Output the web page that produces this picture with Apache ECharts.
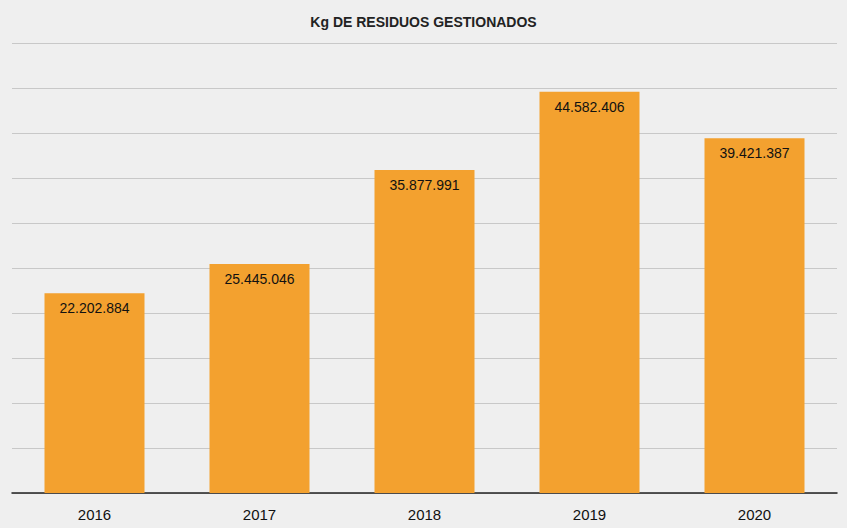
<!DOCTYPE html>
<html><head><meta charset="utf-8">
<script src="https://cdn.jsdelivr.net/npm/echarts@6/dist/echarts.min.js"></script>
<style>html,body{margin:0;padding:0;background:#efefef}#c{width:847px;height:528px}</style>
</head><body><div id="c"></div>
<script>
var years = ['2016', '2017', '2018', '2019', '2020'];
var kg = [22202884, 25445046, 35877991, 44582406, 39421387];

function fmt(v) {
  return String(v).replace(/\B(?=(\d{3})+(?!\d))/g, '.');
}

var chart = echarts.init(document.getElementById('c'), null, { renderer: 'svg' });
chart.setOption({
  animation: false,
  backgroundColor: '#efefef',
  title: {
    text: 'Kg DE RESIDUOS GESTIONADOS',
    left: 'center',
    top: 10,
    textStyle: { fontFamily: 'Liberation Sans', fontSize: 14, fontWeight: 'bold', color: '#222' }
  },
  grid: { left: 12, right: 10, top: 43, bottom: 35 },
  xAxis: {
    type: 'category',
    data: years,
    axisLine: { lineStyle: { color: '#222', width: 1.5 } },
    axisTick: { show: false },
    axisLabel: { color: '#111', fontSize: 15, fontFamily: 'Liberation Sans', margin: 14 }
  },
  yAxis: {
    type: 'value',
    min: 0,
    max: 50000000,
    interval: 5000000,
    axisLabel: { show: false },
    axisLine: { show: false },
    axisTick: { show: false },
    splitLine: { lineStyle: { color: '#c8c8c8' } }
  },
  series: [{
    type: 'bar',
    data: kg,
    barWidth: 100,
    itemStyle: { color: '#f3a12f' },
    label: {
      show: true,
      position: 'insideTop',
      distance: 8,
      color: '#111',
      fontSize: 14,
      fontFamily: 'Liberation Sans',
      formatter: function(p) { return fmt(p.value); }
    }
  }]
});
</script>
</body></html>
